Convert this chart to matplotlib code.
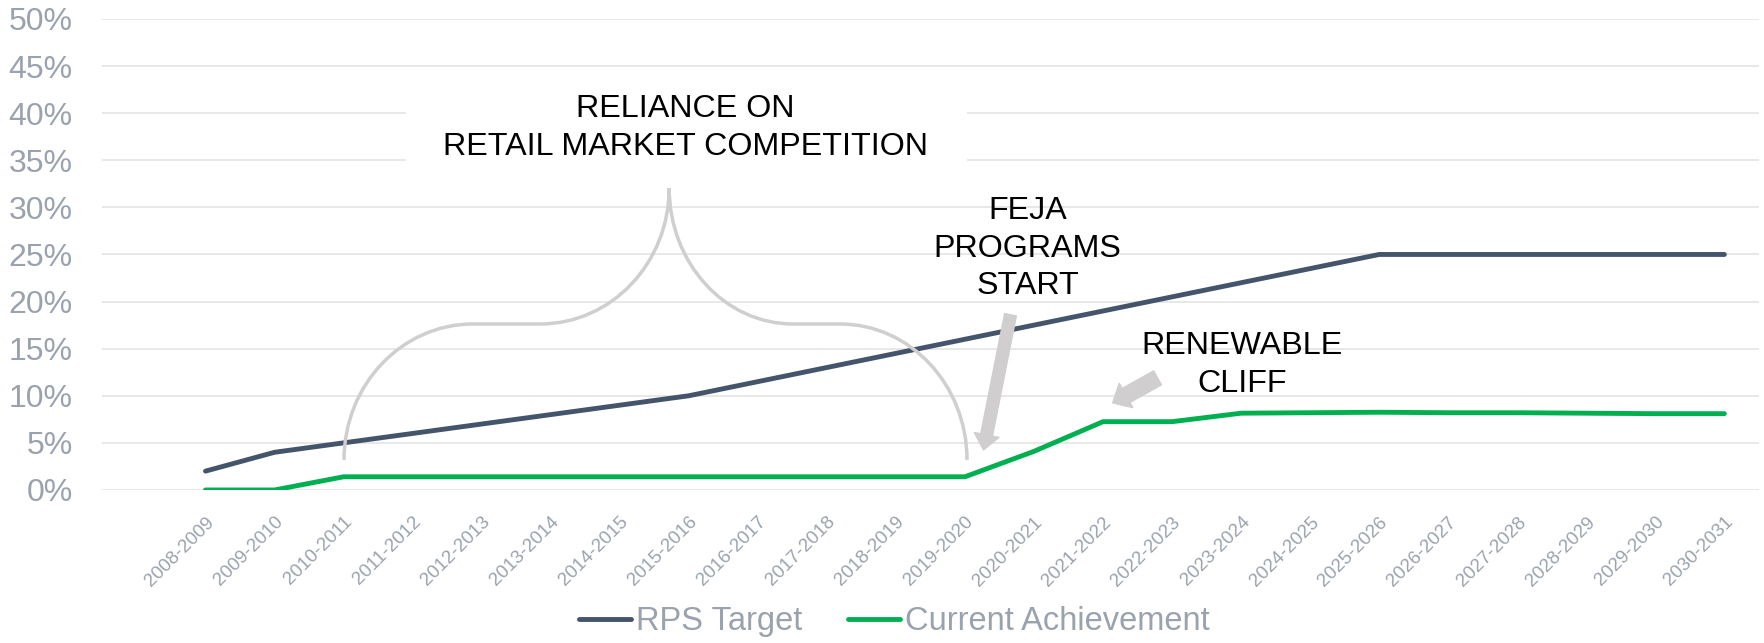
import matplotlib
matplotlib.use('Agg')
import matplotlib.pyplot as plt
from matplotlib.path import Path
from matplotlib.patches import PathPatch, Rectangle

plt.rcParams['font.family'] = ['Liberation Sans', 'DejaVu Sans']

#### data
years = ['2008-2009', '2009-2010', '2010-2011', '2011-2012', '2012-2013', '2013-2014',
         '2014-2015', '2015-2016', '2016-2017', '2017-2018', '2018-2019', '2019-2020',
         '2020-2021', '2021-2022', '2022-2023', '2023-2024', '2024-2025', '2025-2026',
         '2026-2027', '2027-2028', '2028-2029', '2029-2030', '2030-2031']
rps_target = [2.0, 4.0, 5.0, 6.0, 7.0, 8.0, 9.0, 10.0, 11.5, 13.0, 14.5, 16.0,
              17.5, 19.0, 20.5, 22.0, 23.5, 25.0, 25.0, 25.0, 25.0, 25.0, 25.0]
current_achievement = [0.0, 0.0, 1.4, 1.4, 1.4, 1.4, 1.4, 1.4, 1.4, 1.4, 1.4, 1.4,
                       4.1, 7.25, 7.25, 8.15, 8.2, 8.25, 8.2, 8.2, 8.15, 8.1, 8.1]
y_ticks = [0, 5, 10, 15, 20, 25, 30, 35, 40, 45, 50]

gray_txt = '#9aa2ad'
deco = '#d0cece'

fig = plt.figure(figsize=(17.64, 6.43), dpi=100)
ax = fig.add_axes([0.0578, 0.238, 0.9393, 0.7325])

x = list(range(len(years)))
ax.plot(x, rps_target, color='#44546a', lw=3.5, solid_capstyle='round', label='RPS Target', zorder=3)
ax.plot(x, current_achievement, color='#00b050', lw=3.5, solid_capstyle='round',
        label='Current Achievement', zorder=3)

ax.set_xlim(-1.5, len(years) - 0.5)
ax.set_ylim(0, 50)
ax.set_yticks(y_ticks)
ax.set_yticklabels([f'{v}%' for v in y_ticks])
ax.set_xticks(x)
ax.set_xticklabels(years, rotation=45, ha='right', va='top', rotation_mode='anchor')
ax.tick_params(axis='y', length=0, pad=21, labelsize=23, labelcolor=gray_txt)
ax.tick_params(axis='x', length=0, pad=17, labelsize=13.5, labelcolor=gray_txt)
ax.grid(axis='y', color='#e6e6e6', lw=1.3)
ax.set_axisbelow(True)
for s in ax.spines.values():
    s.set_visible(False)

# white box behind the top label
ax.add_patch(Rectangle((2.9, 34.1), 8.13, 8.9, facecolor='white', edgecolor='none', zorder=1))

# curly brace
k = 0.5523
p0 = (2.006, 3.18); p1 = (3.875, 17.62); p2 = (4.846, 17.62); p3 = (6.716, 32.06)
p4 = (8.51, 17.62); p5 = (9.19, 17.62); p6 = (11.03, 3.18)
verts = [p0,
         (p0[0], p0[1] + k * (p1[1] - p0[1])), (p1[0] - k * (p1[0] - p0[0]), p1[1]), p1,
         p2,
         (p2[0] + k * (p3[0] - p2[0]), p2[1]), (p3[0], p3[1] - k * (p3[1] - p2[1])), p3,
         (p3[0], p3[1] - k * (p3[1] - p4[1])), (p4[0] - k * (p4[0] - p3[0]), p4[1]), p4,
         p5,
         (p5[0] + k * (p6[0] - p5[0]), p5[1]), (p6[0], p6[1] + k * (p5[1] - p6[1])), p6]
codes = [Path.MOVETO, Path.CURVE4, Path.CURVE4, Path.CURVE4, Path.LINETO,
         Path.CURVE4, Path.CURVE4, Path.CURVE4, Path.CURVE4, Path.CURVE4, Path.CURVE4,
         Path.LINETO, Path.CURVE4, Path.CURVE4, Path.CURVE4]
ax.add_patch(PathPatch(Path(verts, codes), facecolor='none', edgecolor=deco, lw=2.5, zorder=4))

# arrows
ax.annotate('', xy=(11.27, 4.25), xytext=(11.66, 18.6),
            arrowprops=dict(arrowstyle='simple,head_width=18,head_length=11,tail_width=8.6',
                            mutation_scale=1, color=deco, shrinkA=0, shrinkB=0), zorder=5)
ax.annotate('', xy=(13.14, 9.24), xytext=(13.79, 11.9),
            arrowprops=dict(arrowstyle='simple,head_width=20,head_length=11,tail_width=11.5',
                            mutation_scale=1, color=deco, shrinkA=0, shrinkB=0), zorder=5)

# labels
for txt, xx, yy in [('RELIANCE ON', 6.955, 39.6), ('RETAIL MARKET COMPETITION', 6.955, 35.6),
                    ('FEJA', 11.91, 28.8), ('PROGRAMS', 11.91, 24.7), ('START', 11.91, 20.8),
                    ('RENEWABLE', 15.02, 14.4), ('CLIFF', 15.02, 10.4)]:
    ax.text(xx, yy, txt, ha='center', va='baseline', fontsize=23.2, color='black', zorder=6)

leg = ax.legend(loc='center', bbox_to_anchor=(0.507, 0.0327), bbox_transform=fig.transFigure,
                ncol=2, frameon=False, fontsize=23.5, handlelength=1.6, handletextpad=0.16,
                columnspacing=1.4)
for t in leg.get_texts():
    t.set_color(gray_txt)

plt.savefig('out.png', dpi=100)
